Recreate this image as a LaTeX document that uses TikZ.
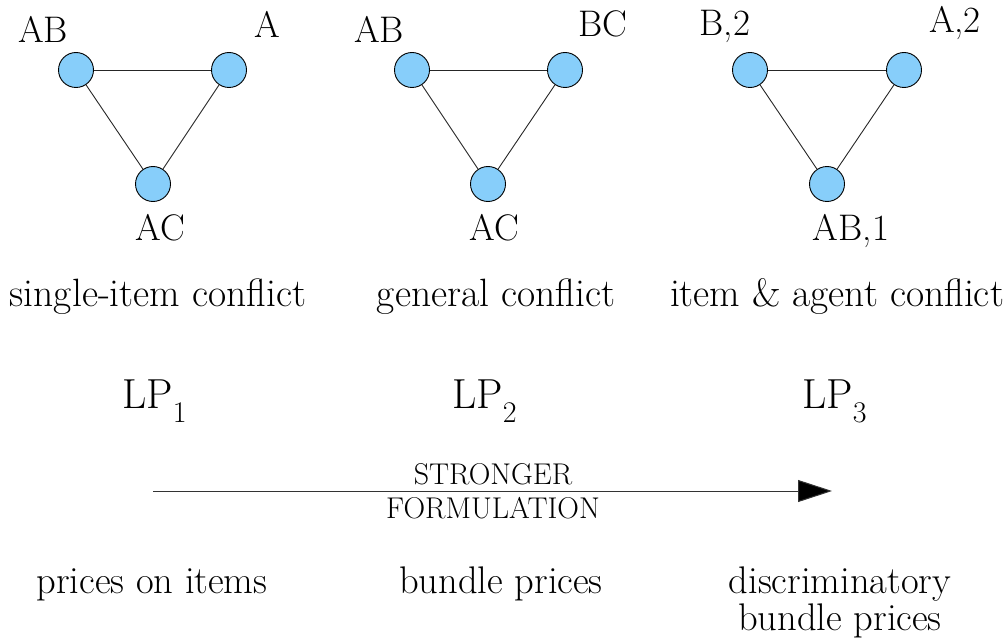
\documentclass[tikz,border=0pt]{standalone}
\usepackage{fontspec}
\usetikzlibrary{arrows.meta}
\definecolor{vfill}{RGB}{135,206,250}
\tikzset{
  vert/.style={circle,draw=black,fill=vfill,line width=0.9pt,minimum size=35pt,inner sep=0pt},
  edge/.style={draw=black!85,line width=0.9pt},
  vlabel/.style={inner sep=0pt,anchor=base,font=\fontsize{37}{42}\selectfont},
  caption/.style={inner sep=0pt,anchor=base,font=\fontsize{39.5}{44}\selectfont},
  lplabel/.style={inner sep=0pt,anchor=base west,font=\fontsize{42}{48}\selectfont},
  arrowtext/.style={inner sep=0pt,anchor=base,font=\fontsize{30}{36}\selectfont},
}
\newcommand{\lpsub}[1]{\raisebox{-14pt}{\fontsize{30}{30}\selectfont #1}}
\begin{document}
\begin{tikzpicture}[x=1pt,y=-1pt]
\useasboundingbox (0,0) rectangle (1008,639);
% panel 1
\node[vert] (p1a) at (76,70) {};
\node[vert] (p1b) at (229,70) {};
\node[vert] (p1c) at (153,184) {};
\draw[edge] (p1a) -- (p1b);
\draw[edge] (p1a) -- (p1c);
\draw[edge] (p1b) -- (p1c);
\node[vlabel] (l1a) at (43,43) {AB};
\node[vlabel] (l1b) at (267,38) {A};
\node[vlabel] (l1c) at (160,240) {AC};
% panel 2
\node[vert] (p2a) at (412,70) {};
\node[vert] (p2b) at (565,70) {};
\node[vert] (p2c) at (488,184) {};
\draw[edge] (p2a) -- (p2b);
\draw[edge] (p2a) -- (p2c);
\draw[edge] (p2b) -- (p2c);
\node[vlabel] (l2a) at (379,43) {AB};
\node[vlabel] (l2b) at (603,37) {BC};
\node[vlabel] (l2c) at (494,240) {AC};
% panel 3
\node[vert] (p3a) at (750,70) {};
\node[vert] (p3b) at (904,70) {};
\node[vert] (p3c) at (827,184) {};
\draw[edge] (p3a) -- (p3b);
\draw[edge] (p3a) -- (p3c);
\draw[edge] (p3b) -- (p3c);
\node[vlabel] (l3a) at (725,36) {B,2};
\node[vlabel] (l3b) at (955,33) {A,2};
\node[vlabel] (l3c) at (851,240) {AB,1};
% captions
\node[caption] (c1) at (158,306) {single-item conflict};
\node[caption] (c2) at (496,306) {general conflict};
\node[caption] (c3) at (837,306) {item \& agent conflict};
% LPs
\node[lplabel] (lp1) at (122,408) {LP\lpsub{1}};
\node[lplabel] (lp2) at (452,408) {LP\lpsub{2}};
\node[lplabel] (lp3) at (802,408) {LP\lpsub{3}};
% arrow
\coordinate (as) at (153,491);
\coordinate (ae) at (832,491);
\draw[line width=1pt,draw=black!80,-{Triangle[length=34pt,width=22pt,fill=black]}] (as) -- (ae);
\node[arrowtext] (s1) at (493,484) {STRONGER};
\node[arrowtext] (s2) at (493,518) {FORMULATION};
% bottom
\node[caption,font=\fontsize{38.5}{44}\selectfont] (b1) at (152,593) {prices on items};
\node[caption,font=\fontsize{38.5}{44}\selectfont] (b2) at (501,593) {bundle prices};
\node[inner sep=0pt,align=center,font=\fontsize{38.5}{37}\selectfont] (b3) at (840,602.5) {discriminatory\\bundle prices};
\end{tikzpicture}
\end{document}
